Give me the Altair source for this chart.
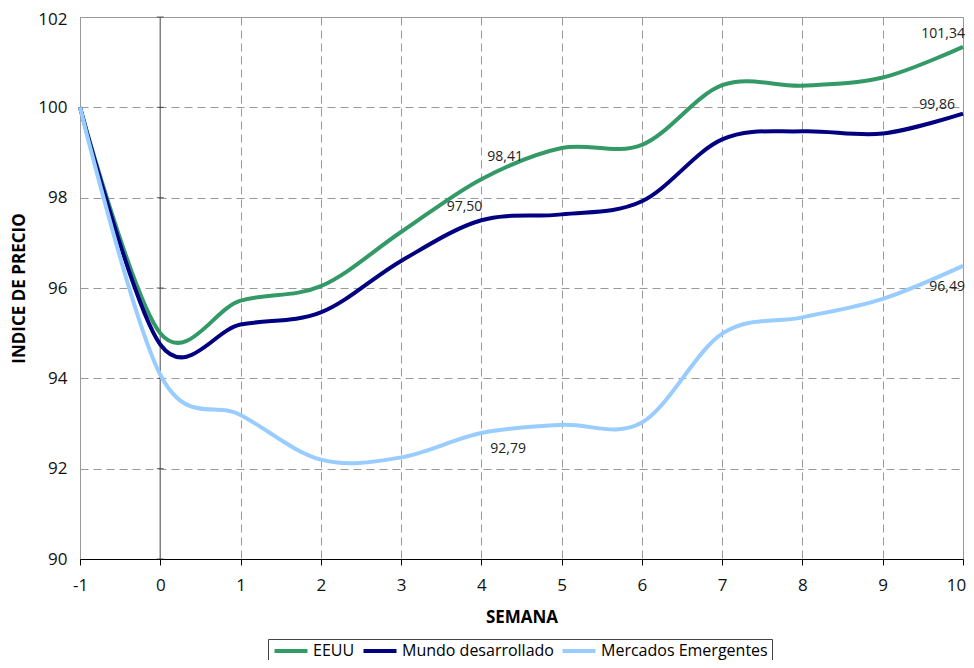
import altair as alt
import pandas as pd

weeks = [-1, 0, 1, 2, 3, 4, 5, 6, 7, 8, 9, 10]
eeuu = [100.0, 95.00, 95.72, 96.04, 97.24, 98.41, 99.10, 99.17, 100.49, 100.48, 100.66, 101.34]
mundo = [100.0, 94.75, 95.19, 95.46, 96.60, 97.50, 97.63, 97.92, 99.29, 99.47, 99.42, 99.86]
emergentes = [100.0, 94.08, 93.19, 92.20, 92.25, 92.79, 92.97, 93.02, 94.99, 95.35, 95.76, 96.49]

series_names = ["EEUU", "Mundo desarrollado", "Mercados Emergentes"]
series_colors = ["#339966", "#000080", "#99CCFF"]

y_ticks = [90, 92, 94, 96, 98, 100, 102]
zero_week = [0]

label_weeks = [4, 4, 4, 10, 10, 10]
label_values = [98.41, 97.50, 92.79, 101.34, 99.86, 96.49]
label_texts = ["98,41", "97,50", "92,79", "101,34", "99,86", "96,49"]

rows = []
for name, vals in zip(series_names, [eeuu, mundo, emergentes]):
    for w, v in zip(weeks, vals):
        rows.append({"semana": w, "indice": v, "serie": name})
df = pd.DataFrame(rows)

x_scale = alt.Scale(domain=[-1, 10], nice=False, zero=False)
y_scale = alt.Scale(domain=[90, 102], nice=False, zero=False)

x_axis = alt.Axis(
    values=weeks, title="SEMANA", grid=True, gridDash=[8, 5], gridColor="#999999",
    gridWidth=1, domainColor="#000000", domainWidth=1, tickColor="#000000",
    tickSize=6, labelFontSize=17, labelPadding=12, labelColor="#111111",
    labelExpr="toString(datum.value)",
    labelOffset=alt.condition("datum.value == 10", alt.value(-7), alt.value(0)),
    labelFlush=False, labelOverlap=False, titleFontSize=17, titleFontWeight="bold",
    titleColor="#000000", titleY=58, titleBaseline="middle",
)
y_axis = alt.Axis(
    values=y_ticks, title="INDICE DE PRECIO", grid=True, gridDash=[8, 5],
    gridColor="#999999", gridWidth=1, domain=False, ticks=False,
    labelFontSize=17, labelPadding=13, labelColor="#111111", labelOverlap=False,
    labelExpr="toString(datum.value)",
    labelOffset=alt.condition("datum.value == 102", alt.value(2), alt.value(0)),
    titleFontSize=17, titleFontWeight="bold", titleColor="#000000",
    titleX=-61, titleY=271, titleAngle=270, titleAlign="center", titleBaseline="middle",
)

lines = alt.Chart(df).mark_line(interpolate="cardinal", strokeWidth=4).encode(
    x=alt.X("semana:Q", scale=x_scale, axis=x_axis),
    y=alt.Y("indice:Q", scale=y_scale, axis=y_axis),
    color=alt.Color(
        "serie:N",
        scale=alt.Scale(domain=series_names, range=series_colors),
        legend=alt.Legend(
            title=None, orient="none", legendX=188, legendY=622, direction="horizontal",
            symbolType="M-1,0L5,0", symbolSize=121, symbolStrokeWidth=4,
            labelFontSize=16, labelColor="#000000", labelOffset=25, columnPadding=0,
            labelLimit=400, padding=4, strokeColor="#444444", fillColor="#ffffff",
        ),
    ),
)

zero_rule = alt.Chart(pd.DataFrame({"semana": zero_week})).mark_rule(
    color="#808080", strokeWidth=1.5
).encode(x=alt.X("semana:Q", scale=x_scale))

tick_rows = [{"semana": z, "indice": t} for z in zero_week for t in y_ticks]
zero_ticks = alt.Chart(pd.DataFrame(tick_rows)).mark_tick(
    orient="horizontal", size=7, thickness=1, color="#222222"
).encode(
    x=alt.X("semana:Q", scale=x_scale),
    y=alt.Y("indice:Q", scale=y_scale),
)

label_styles = [
    dict(align="left", dx=6, dy=-22),
    dict(align="right", dx=1, dy=-13),
    dict(align="left", dx=9, dy=16),
    dict(align="right", dx=2, dy=-13),
    dict(align="right", dx=-8, dy=-9),
    dict(align="right", dx=2, dy=21),
]

layers = [zero_rule, zero_ticks, lines]
for w, v, t, st in zip(label_weeks, label_values, label_texts, label_styles):
    ldf = pd.DataFrame({"semana": [w], "indice": [v], "txt": [t]})
    layers.append(
        alt.Chart(ldf).mark_text(
            fontSize=14, color="#222222", baseline="middle", **st
        ).encode(
            x=alt.X("semana:Q", scale=x_scale),
            y=alt.Y("indice:Q", scale=y_scale),
            text="txt:N",
        )
    )

chart = alt.layer(*layers).properties(
    width=883, height=542,
    autosize=alt.AutoSizeParams(type="none"),
    padding={"left": 72, "top": 9, "right": 3, "bottom": 101},
).configure(
    font="Open Sans",
).configure_view(
    stroke="#999999", strokeWidth=1,
)

chart.save("out.html", embed_options={"renderer": "svg", "actions": False})
